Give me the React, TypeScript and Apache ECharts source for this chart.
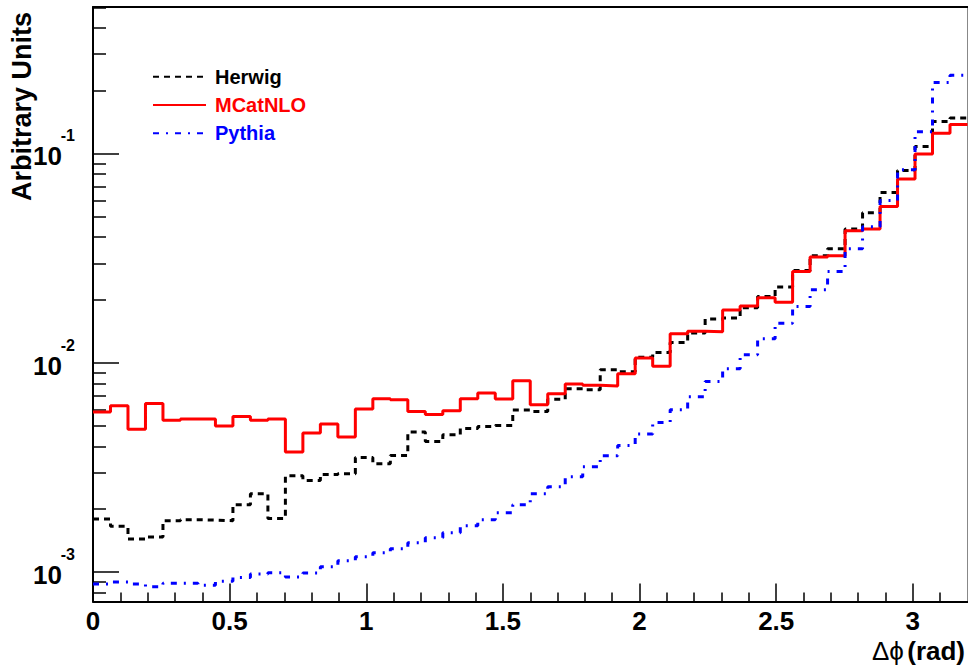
import React, { useEffect, useRef } from "react";
import * as echarts from "echarts";

// Histogram binning: 50 bins of width 0.064 rad between 0 and 3.2
const BIN_WIDTH = 0.064;
const X_MIN = 0;
const X_MAX = 3.2;
const Y_MIN = 7.24e-4;
const Y_MAX = 0.504;

// Bin contents (arbitrary units), one value per bin
const herwig = [
  0.001796, 0.001656, 0.001441, 0.001473, 0.001763, 0.001782, 0.001775, 0.001763, 0.002102, 0.002372,
  0.001808, 0.002892, 0.002746, 0.002934, 0.002957, 0.003538, 0.0033, 0.003617, 0.004679, 0.004218,
  0.004542, 0.004869, 0.004977, 0.005032, 0.005962, 0.00587, 0.00671, 0.00754, 0.00746, 0.00929,
  0.00909, 0.01066, 0.01124, 0.01254, 0.01391, 0.01623, 0.01643, 0.01838, 0.02082, 0.02308,
  0.02771, 0.0326, 0.0352, 0.0437, 0.0523, 0.0654, 0.0833, 0.1085, 0.1429, 0.1483,
];

const mcatnlo = [
  0.00583, 0.00625, 0.00482, 0.00641, 0.00532, 0.0054, 0.0054, 0.005, 0.00555, 0.00532,
  0.0054, 0.00375, 0.00463, 0.00511, 0.00443, 0.00603, 0.00675, 0.00668, 0.00587, 0.00568,
  0.00592, 0.00675, 0.00719, 0.00673, 0.00823, 0.00632, 0.00713, 0.00794, 0.00782, 0.00776,
  0.00889, 0.01057, 0.00965, 0.0138, 0.0142, 0.0141, 0.01794, 0.01875, 0.0205, 0.01953,
  0.0274, 0.0321, 0.0326, 0.0429, 0.0437, 0.0561, 0.0758, 0.1, 0.1257, 0.1382,
];

const pythia = [
  0.000878, 0.000898, 0.000878, 0.000852, 0.000884, 0.000884, 0.000865, 0.000904, 0.000944, 0.00098,
  0.000994, 0.000949, 0.000991, 0.001062, 0.001135, 0.001186, 0.00124, 0.001295, 0.001384, 0.001462,
  0.001545, 0.001669, 0.001782, 0.001925, 0.002102, 0.002372, 0.002563, 0.00286, 0.00319, 0.003605,
  0.004037, 0.004576, 0.0052, 0.00598, 0.0069, 0.00817, 0.00939, 0.01096, 0.01307, 0.0155,
  0.01865, 0.0224, 0.0274, 0.0352, 0.0448, 0.0599, 0.0839, 0.1275, 0.2194, 0.238,
];

// Axis tick positions
const X_MAJOR = [0, 0.5, 1, 1.5, 2, 2.5, 3];
const X_MINOR = [
  0.1, 0.2, 0.3, 0.4, 0.6, 0.7, 0.8, 0.9, 1.1, 1.2, 1.3, 1.4, 1.6, 1.7, 1.8, 1.9,
  2.1, 2.2, 2.3, 2.4, 2.6, 2.7, 2.8, 2.9, 3.1,
];
const Y_MAJOR = [0.001, 0.01, 0.1];
const Y_MINOR = [
  0.0008, 0.0009,
  0.002, 0.003, 0.004, 0.005, 0.006, 0.007, 0.008, 0.009,
  0.02, 0.03, 0.04, 0.05, 0.06, 0.07, 0.08, 0.09,
  0.2, 0.3, 0.4, 0.5,
];

const FONT = "'Liberation Sans', Arial, Helvetica, sans-serif";

// Turn bin contents into step-line points: one point per bin low edge plus the last upper edge
function toSteps(values: number[]): [number, number][] {
  const pts: [number, number][] = values.map((v, i) => [+(i * BIN_WIDTH).toFixed(4), v]);
  pts.push([X_MAX, values[values.length - 1]]);
  return pts;
}

const SERIES = [
  { name: "Herwig", data: herwig, color: "#000000", dash: [6, 5] as number[] | "solid" },
  { name: "MCatNLO", data: mcatnlo, color: "#ff0000", dash: "solid" as number[] | "solid" },
  { name: "Pythia", data: pythia, color: "#0000ff", dash: [6, 7, 2, 7] as number[] | "solid" },
];

export default function App() {
  const ref = useRef<HTMLDivElement>(null);

  useEffect(() => {
    if (!ref.current) return;
    const chart = echarts.init(ref.current, undefined, { renderer: "svg" });

    const hiddenAxisParts = {
      axisTick: { show: false },
      axisLabel: { show: false },
      splitLine: { show: false },
    };

    const labelFont = { fontWeight: "bold", color: "#000", fontFamily: FONT };

    const option: any = {
      animation: false,
      backgroundColor: "#ffffff",
      textStyle: { fontFamily: FONT },
      grid: {
        left: 93,
        right: 0.5,
        top: 7,
        bottom: 63.5,
        containLabel: false,
        outerBoundsMode: "none",
      },
      legend: {
        orient: "vertical",
        left: 147,
        top: 61.7,
        itemWidth: 53,
        itemHeight: 20,
        itemGap: 8.3,
        selectedMode: false,
        itemStyle: { opacity: 0, color: "transparent", borderWidth: 0 },
        textStyle: {
          fontSize: 20,
          fontWeight: "bold",
          fontFamily: FONT,
          lineHeight: 20,
          padding: [0, 0, 0, 4],
        },
        data: SERIES.map((s) => ({ name: s.name, textStyle: { color: s.color } })),
      },
      xAxis: [
        {
          type: "value",
          min: X_MIN,
          max: X_MAX,
          position: "bottom",
          axisLine: { show: true, onZero: false, lineStyle: { color: "#000", width: 2 } },
          axisTick: {
            show: true,
            inside: true,
            length: 18,
            customValues: X_MAJOR,
            lineStyle: { color: "#000", width: 1.5 },
          },
          axisLabel: {
            show: true,
            customValues: X_MAJOR,
            margin: 6,
            fontSize: 26,
            ...labelFont,
          },
          splitLine: { show: false },
        },
        {
          type: "value",
          min: X_MIN,
          max: X_MAX,
          position: "bottom",
          axisLine: { show: false, onZero: false },
          axisTick: {
            show: true,
            inside: true,
            length: 9,
            customValues: X_MINOR,
            lineStyle: { color: "#000", width: 1.5 },
          },
          axisLabel: { show: false },
          splitLine: { show: false },
        },
        {
          type: "value",
          min: X_MIN,
          max: X_MAX,
          position: "top",
          axisLine: { show: true, onZero: false, lineStyle: { color: "#000", width: 2 } },
          ...hiddenAxisParts,
        },
      ],
      yAxis: [
        {
          // main log axis: frame line, decade ticks and the "10" mantissa of each decade label
          type: "log",
          logBase: 10,
          min: Y_MIN,
          max: Y_MAX,
          position: "left",
          axisLine: { show: true, onZero: false, lineStyle: { color: "#000", width: 2 } },
          axisTick: {
            show: true,
            inside: true,
            length: 26,
            customValues: Y_MAJOR,
            lineStyle: { color: "#000", width: 1.5 },
          },
          axisLabel: {
            show: true,
            customValues: Y_MAJOR,
            margin: 31,
            fontSize: 26,
            lineHeight: 5,
            verticalAlign: "top",
            ...labelFont,
            formatter: () => "10",
          },
          splitLine: { show: false },
        },
        {
          // same scale: sub-decade ticks and the raised exponents of the decade labels
          type: "log",
          logBase: 10,
          min: Y_MIN,
          max: Y_MAX,
          position: "left",
          axisLine: { show: false, onZero: false },
          axisTick: {
            show: true,
            inside: true,
            length: 13,
            customValues: Y_MINOR,
            lineStyle: { color: "#000", width: 1.5 },
          },
          axisLabel: {
            show: true,
            customValues: Y_MAJOR,
            margin: 18,
            fontSize: 16,
            lineHeight: 36,
            verticalAlign: "bottom",
            ...labelFont,
            formatter: (v: number) => `${Math.round(Math.log10(v))}`,
          },
          splitLine: { show: false },
        },
        {
          type: "log",
          logBase: 10,
          min: Y_MIN,
          max: Y_MAX,
          position: "right",
          axisLine: { show: true, onZero: false, lineStyle: { color: "#888", width: 1 } },
          ...hiddenAxisParts,
        },
      ],
      series: SERIES.map((s) => ({
        name: s.name,
        type: "line",
        step: "end",
        xAxisIndex: 0,
        yAxisIndex: 0,
        symbol: "none",
        showSymbol: false,
        clip: true,
        color: s.color,
        lineStyle: { color: s.color, width: 3, type: s.dash },
        data: toSteps(s.data),
      })),
      graphic: [
        {
          type: "text",
          x: 965,
          y: 651,
          style: {
            text: "{g|Δϕ} {b|(rad)}",
            align: "right",
            verticalAlign: "middle",
            rich: {
              g: { fontSize: 26, fontFamily: FONT, fill: "#000", lineHeight: 24 },
              b: { fontSize: 26, fontWeight: "bold", fontFamily: FONT, fill: "#000", lineHeight: 24 },
            },
          },
        },
        {
          type: "text",
          x: 22,
          y: 12,
          rotation: Math.PI / 2,
          style: {
            text: "Arbitrary Units",
            align: "right",
            verticalAlign: "middle",
            fontSize: 27,
            fontWeight: "bold",
            fontFamily: FONT,
            fill: "#000",
          },
        },
      ],
    };

    chart.setOption(option);
    return () => chart.dispose();
  }, []);

  return (
    <div
      ref={ref}
      style={{ position: "absolute", left: 0, top: 0, width: 968, height: 665, background: "#fff" }}
    />
  );
}
